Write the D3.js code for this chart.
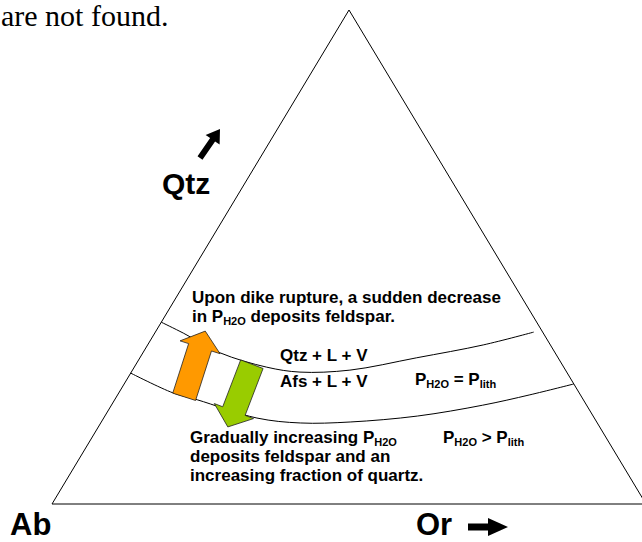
<!DOCTYPE html>
<html>
<head>
<meta charset="utf-8">
<script src="https://cdn.jsdelivr.net/npm/d3@7"></script>
<style>
  body { margin: 0; background: #fff; }
  svg { display: block; }
  .lbl { font-family: "Liberation Sans", Arial, sans-serif; font-weight: bold; fill: #000; }
  .serif { font-family: "Liberation Serif", "Times New Roman", serif; fill: #000; }
</style>
</head>
<body>
<div id="chart"></div>
<script>
// Ternary diagram Ab - Or - Qtz, compositions as fractions (Ab = 1 - Or - Qtz)
const corners = ["Ab", "Or", "Qtz"];
const cornerOr  = [0, 1, 0];
const cornerQtz = [0, 0, 1];

// Cotectic at P_H2O = P_lith (upper boundary)
const upperOr  = [0.000, 0.048, 0.130, 0.223, 0.284, 0.366, 0.466, 0.565, 0.637];
const upperQtz = [0.368, 0.346, 0.306, 0.277, 0.267, 0.271, 0.296, 0.322, 0.348];

// Cotectic at P_H2O > P_lith (lower boundary)
const lowerOr  = [0.000, 0.091, 0.139, 0.258, 0.336, 0.419, 0.526, 0.625, 0.694, 0.757];
const lowerQtz = [0.265, 0.225, 0.211, 0.174, 0.164, 0.166, 0.178, 0.200, 0.221, 0.243];

// Shift arrows (from -> to, in composition)
const arrowNames  = ["rupture", "gradual"];
const arrowFromOr  = [0.114, 0.195];
const arrowFromQtz = [0.217, 0.283];
const arrowToOr    = [0.083, 0.218];
const arrowToQtz   = [0.350, 0.156];

const arrowColors = { rupture: "#ff9900", gradual: "#99cc00" };

const W = 642, H = 542;

const svg = d3.select("#chart")
    .append("svg")
    .attr("width", W)
    .attr("height", H);

// Scales: horizontal position along the base, vertical = Qtz fraction
const x = d3.scaleLinear().domain([0, 1]).range([52, 646]);
const y = d3.scaleLinear().domain([0, 1]).range([504, 10]);
const toXY = (or, qtz) => [x(or + qtz / 2), y(qtz)];

const line = d3.line().curve(d3.curveCatmullRom.alpha(0.5));

// Leftover caption text from the source page
svg.append("text")
    .attr("class", "serif")
    .attr("x", 1)
    .attr("y", 26)
    .style("font-size", "30px")
    .text("are not found.");

// Triangle
svg.append("path")
    .attr("d", d3.line()(cornerOr.map((o, i) => toXY(o, cornerQtz[i]))) + "Z")
    .attr("fill", "none")
    .attr("stroke", "#000")
    .attr("stroke-width", 1);

// Boundaries
[[upperOr, upperQtz], [lowerOr, lowerQtz]].forEach(([ors, qtzs]) => {
    svg.append("path")
        .attr("d", line(ors.map((o, i) => toXY(o, qtzs[i]))))
        .attr("fill", "none")
        .attr("stroke", "#000")
        .attr("stroke-width", 1);
});

// block arrow polygon from base point to tip
function arrowPoints(b, t, sw, hw, hl) {
    const dx = t[0] - b[0], dy = t[1] - b[1];
    const len = Math.hypot(dx, dy);
    const ux = dx / len, uy = dy / len;
    const nx = -uy, ny = ux;
    const hx = b[0] + ux * (len - hl), hy = b[1] + uy * (len - hl);
    return [
        [b[0] + nx * sw / 2, b[1] + ny * sw / 2],
        [hx + nx * sw / 2, hy + ny * sw / 2],
        [hx + nx * hw / 2, hy + ny * hw / 2],
        t,
        [hx - nx * hw / 2, hy - ny * hw / 2],
        [hx - nx * sw / 2, hy - ny * sw / 2],
        [b[0] - nx * sw / 2, b[1] - ny * sw / 2]
    ];
}

svg.selectAll(".shift")
    .data(arrowNames)
    .enter()
    .append("polygon")
    .attr("class", "shift")
    .attr("points", (d, i) => arrowPoints(
        toXY(arrowFromOr[i], arrowFromQtz[i]),
        toXY(arrowToOr[i], arrowToQtz[i]), 24, 42, 17).join(" "))
    .attr("fill", d => arrowColors[d])
    .attr("stroke", "#222")
    .attr("stroke-width", 0.8);

// Text with subscripts: parts are [string, isSub]
function richText(xp, yp, parts, size) {
    const t = svg.append("text")
        .attr("class", "lbl")
        .attr("x", xp)
        .attr("y", yp)
        .style("font-size", size + "px");
    let shifted = false;
    parts.forEach(([s, sub]) => {
        const ts = t.append("tspan").text(s);
        if (sub && !shifted) { ts.attr("dy", 3).style("font-size", "11px"); shifted = true; }
        else if (sub) { ts.style("font-size", "11px"); }
        else if (shifted) { ts.attr("dy", -3); shifted = false; }
    });
    return t;
}

const notes = [
    [192, 303, [["Upon dike rupture, a sudden decrease"]]],
    [192, 322, [["in P"], ["H2O", true], [" deposits feldspar."]]],
    [280, 361, [["Qtz + L + V"]]],
    [280, 387, [["Afs + L + V"]]],
    [415, 385, [["P"], ["H2O", true], [" = P"], ["lith", true]]],
    [190, 443, [["Gradually increasing P"], ["H2O", true]]],
    [190, 462, [["deposits feldspar and an"]]],
    [190, 481, [["increasing fraction of quartz."]]],
    [443, 443, [["P"], ["H2O", true], [" > P"], ["lith", true]]]
];
notes.forEach(n => richText(n[0], n[1], n[2], 17));

// Corner labels
richText(10, 535, [["Ab"]], 31);
richText(416, 535, [["Or"]], 31);
richText(162, 194, [["Qtz"]], 30);

// direction arrows beside labels
svg.append("polygon")
    .attr("points", arrowPoints([200, 158], [220, 129], 6, 17, 13).join(" "))
    .attr("fill", "#000");
svg.append("polygon")
    .attr("points", arrowPoints([468, 527], [508, 527], 7, 18, 20).join(" "))
    .attr("fill", "#000");
</script>
</body>
</html>
